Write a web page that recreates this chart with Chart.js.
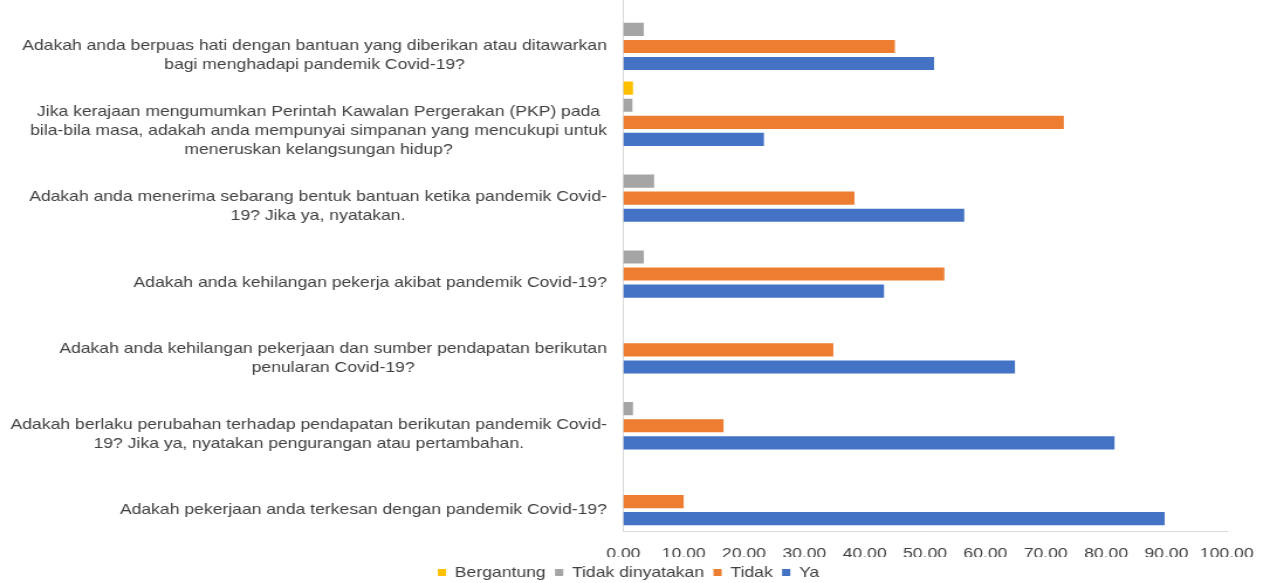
<!DOCTYPE html>
<html>
<head>
<meta charset="utf-8">
<script src="https://cdn.jsdelivr.net/npm/chart.js@4.4.1/dist/chart.umd.min.js"></script>
<style>
html, body { margin: 0; padding: 0; background: #fff; overflow: hidden; }
/* the source picture is stretched sideways, so the chart is drawn narrower and widened */
#wrap { width: 1085px; height: 583px; transform: scaleX(1.1705); transform-origin: 0 0; }
</style>
</head>
<body>
<div id="wrap"><canvas id="covidBar"></canvas></div>
<script>
// questions (top to bottom), each one split in lines like the source
var questions = [
	["Adakah anda berpuas hati dengan bantuan yang diberikan atau ditawarkan", "bagi menghadapi pandemik Covid-19?"],
	["Jika kerajaan mengumumkan Perintah Kawalan Pergerakan (PKP) pada", "bila-bila masa, adakah anda mempunyai simpanan yang mencukupi untuk", "meneruskan kelangsungan hidup?"],
	["Adakah anda menerima sebarang bentuk bantuan ketika pandemik Covid-", "19? Jika ya, nyatakan."],
	["Adakah anda kehilangan pekerja akibat pandemik Covid-19?"],
	["Adakah anda kehilangan pekerjaan dan sumber pendapatan berikutan", "penularan Covid-19?"],
	["Adakah berlaku perubahan terhadap pendapatan berikutan pandemik Covid-", "19? Jika ya, nyatakan pengurangan atau pertambahan."],
	["Adakah pekerjaan anda terkesan dengan pandemik Covid-19?"]
];

// percentages
var bergantung      = [0,    1.6,  0,    0,    0,    0,    0];
var tidakDinyatakan = [3.4,  1.5,  5.1,  3.4,  0,    1.6,  0];
var tidak           = [45.0, 73.0, 38.3, 53.2, 34.8, 16.6, 10.0];
var ya              = [51.5, 23.3, 56.5, 43.2, 64.9, 81.4, 89.7];

var xMin = 0, xMax = 100, xStep = 10;

var fontFamily = "'Liberation Sans', Arial, sans-serif";
var labelFont = "15px " + fontFamily;
var textColor = "#404040";
var labelGap = 14;

function widestLine(c) {
	c.save();
	c.font = labelFont;
	var w = 0;
	for (var i = 0; i < questions.length; i++) {
		for (var j = 0; j < questions[i].length; j++) {
			w = Math.max(w, c.measureText(questions[i][j]).width);
		}
	}
	c.restore();
	return w;
}

// draws the question labels like excel does (block right aligned, lines centered)
var questionLabels = {
	id: 'questionLabels',
	afterDraw: function(chart) {
		var ctx = chart.ctx;
		var yScale = chart.scales.y;
		var right = yScale.right - labelGap;
		ctx.save();
		ctx.font = labelFont;
		ctx.fillStyle = textColor;
		ctx.textAlign = 'center';
		ctx.textBaseline = 'middle';
		var lineH = 19;
		for (var i = 0; i < questions.length; i++) {
			var lines = questions[i];
			var maxW = 0;
			for (var j = 0; j < lines.length; j++) {
				maxW = Math.max(maxW, ctx.measureText(lines[j]).width);
			}
			var cx = right - maxW / 2;
			var cy = yScale.getPixelForValue(i) + 17;
			var y0 = cy - (lines.length - 1) * lineH / 2;
			for (var j = 0; j < lines.length; j++) {
				ctx.fillText(lines[j], cx, y0 + j * lineH);
			}
		}
		ctx.restore();
	}
};

var ctx = document.getElementById("covidBar").getContext('2d');
var chart = new Chart(ctx, {
	type: 'bar',
	data: {
		labels: questions,
		datasets: [
			{ label: "Bergantung", data: bergantung, backgroundColor: "#FFC000" },
			{ label: "Tidak dinyatakan", data: tidakDinyatakan, backgroundColor: "#A5A5A5" },
			{ label: "Tidak", data: tidak, backgroundColor: "#ED7D31" },
			{ label: "Ya", data: ya, backgroundColor: "#4472C4" }
		]
	},
	options: {
		indexAxis: 'y',
		responsive: true,
		maintainAspectRatio: false,
		animation: false,
		categoryPercentage: 0.9,
		barPercentage: 0.77,
		layout: { padding: { left: 9, right: 20, top: 0, bottom: -7 } },
		scales: {
			x: {
				min: xMin,
				max: xMax,
				grid: { display: false, drawTicks: false },
				border: { display: true, color: "#d9d9d9", width: 1 },
				ticks: {
					stepSize: xStep,
					padding: 14,
					color: textColor,
					font: { family: fontFamily, size: 15 },
					callback: function(v) { return Number(v).toFixed(2); }
				},
				afterFit: function(scale) {
					scale.height = 26;
				}
			},
			y: {
				grid: { display: false },
				border: { display: true, color: "#d9d9d9", width: 1 },
				ticks: { display: false },
				afterFit: function(scale) {
					scale.width = widestLine(scale.ctx) + labelGap;
				}
			}
		},
		plugins: {
			legend: {
				position: 'bottom',
				labels: {
					boxWidth: 7,
					boxHeight: 7,
					padding: 8,
					color: textColor,
					font: { family: fontFamily, size: 15 }
				}
			},
			tooltip: { enabled: false }
		}
	},
	plugins: [questionLabels]
});
</script>
</body>
</html>
